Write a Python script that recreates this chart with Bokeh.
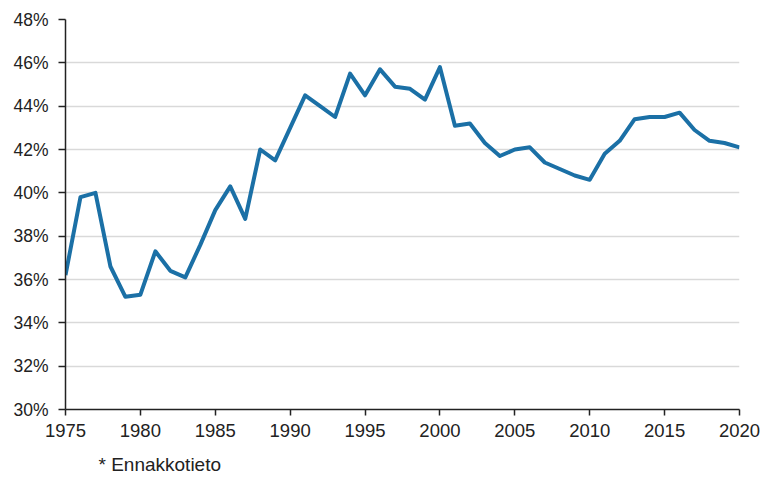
from bokeh.plotting import figure
from bokeh.models import FixedTicker, PrintfTickFormatter, Range1d, Title
from bokeh.embed import file_html
from bokeh.resources import INLINE

years = list(range(1975, 2021))
values = [36.2, 39.8, 40.0, 36.6, 35.2, 35.3, 37.3, 36.4, 36.1, 37.6,
          39.2, 40.3, 38.8, 42.0, 41.5, 43.0, 44.5, 44.0, 43.5, 45.5,
          44.5, 45.7, 44.9, 44.8, 44.3, 45.8, 43.1, 43.2, 42.3, 41.7,
          42.0, 42.1, 41.4, 41.1, 40.8, 40.6, 41.8, 42.4, 43.4, 43.5,
          43.5, 43.7, 42.9, 42.4, 42.3, 42.1]
x_ticks = list(range(1975, 2021, 5))
y_ticks = list(range(30, 49, 2))
footnote = "* Ennakkotieto"

FONT = "Liberation Sans"
TXT = "#222222"

p = figure(width=763, height=487, output_backend="svg", toolbar_location=None,
           x_range=Range1d(1975, 2020), y_range=Range1d(30, 48),
           min_border_left=65, min_border_right=24, min_border_top=19,
           min_border_bottom=78, background_fill_color="white",
           border_fill_color="white")
p.outline_line_color = None

p.line(years, values, line_color="#1b70a6", line_width=4, line_join="round")

p.xgrid.visible = False
p.ygrid.grid_line_color = "#d9d9d9"
p.ygrid.grid_line_width = 1.5

for ax in (p.xaxis[0], p.yaxis[0]):
    ax.axis_line_color = "#222222"
    ax.axis_line_width = 1.5
    ax.major_tick_line_color = "#222222"
    ax.major_tick_line_width = 1.5
    ax.major_tick_in = 0
    ax.minor_tick_line_color = None
    ax.major_label_text_font = FONT
    ax.major_label_text_color = TXT

p.xaxis[0].ticker = FixedTicker(ticks=x_ticks)
p.xaxis[0].major_tick_out = 6
p.xaxis[0].major_label_standoff = 8
p.xaxis[0].major_label_text_font_size = "18.5px"
p.yaxis[0].ticker = FixedTicker(ticks=y_ticks)
p.yaxis[0].formatter = PrintfTickFormatter(format="%d%%")
p.yaxis[0].major_tick_out = 7
p.yaxis[0].major_label_standoff = 10
p.yaxis[0].major_label_text_font_size = "17.5px"

p.add_layout(Title(text=footnote, align="left", offset=33, standoff=25,
                   text_font=FONT, text_font_size="19px",
                   text_font_style="normal", text_color=TXT), "below")

open("out.html", "w").write(file_html(p, INLINE))
